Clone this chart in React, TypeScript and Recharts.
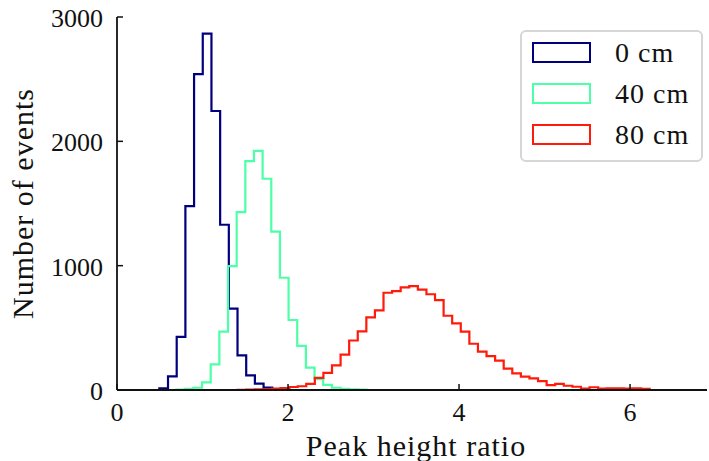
import { LineChart, Line, XAxis, YAxis, Label } from 'recharts'

const FONT = '"Liberation Serif", "Times New Roman", serif'
const INK = '#111'

// histogram series, one per absorber thickness
const seriesNames = ['0 cm', '40 cm', '80 cm']
const seriesColors = ['#00007f', '#4dffa6', '#ff1a0a']

// counts per bin
const blueBinStart = 0.495
const blueBinWidth = 0.1016
const blueCounts = [14, 110, 428, 1479, 2540, 2867, 2244, 1329, 654, 278, 117, 51, 19, 6, 3]

const greenBinStart = 0.691
const greenBinWidth = 0.1012
const greenCounts = [
  4, 9, 18, 62, 206, 469, 997, 1431, 1841, 1924, 1699, 1273, 903, 563, 355, 180, 88, 42, 18, 9, 5, 3,
]

const redBinStart = 1.41
const redBinWidth = 0.1004
const redCounts = [
  2, 4, 5, 7, 12, 16, 24, 30, 50, 98, 137, 198, 284, 398, 472, 584, 641, 782, 796, 825, 836, 807,
  770, 723, 597, 536, 469, 372, 308, 273, 236, 172, 134, 107, 94, 72, 40, 49, 34, 26, 12, 22, 11,
  14, 14, 11, 14, 9,
]
const redTailEnd = 6.9

const xTicks = [0, 2, 4, 6]
const yTicks = [0, 1000, 2000, 3000]
const xMax = 6.9
const yMax = 3000

// turn bin counts into points for a stepAfter outline (like histtype='step')
function toSteps(start: number, width: number, counts: number[], tailEnd?: number) {
  const pts = [{ x: start, y: 0 }]
  counts.forEach((c, i) => pts.push({ x: start + i * width, y: c }))
  const end = start + counts.length * width
  pts.push({ x: end, y: 0 })
  if (tailEnd && tailEnd > end) pts.push({ x: tailEnd, y: 0 })
  return pts
}

const blueData = toSteps(blueBinStart, blueBinWidth, blueCounts)
const greenData = toSteps(greenBinStart, greenBinWidth, greenCounts)
const redData = toSteps(redBinStart, redBinWidth, redCounts, redTailEnd)
const seriesData = [blueData, greenData, redData]

function XTick({ x, y, payload }: any) {
  return (
    <g>
      <line x1={x} y1={y} x2={x} y2={y - 6} stroke={INK} strokeWidth={1.5} />
      <text x={x} y={y + 31} textAnchor="middle" fontSize={26} fontFamily={FONT} fill={INK}>
        {payload.value}
      </text>
    </g>
  )
}

function YTick({ x, y, payload }: any) {
  return (
    <g>
      <line x1={x} y1={y} x2={x + 6} y2={y} stroke={INK} strokeWidth={1.5} />
      <text x={x - 14} y={y + 10} textAnchor="end" fontSize={26} fontFamily={FONT} fill={INK}>
        {payload.value}
      </text>
    </g>
  )
}

// legend box in the upper right, drawn over the plot like matplotlib's
function HistLegend() {
  return (
    <div
      style={{
        position: 'absolute',
        left: 520,
        top: 30,
        boxSizing: 'border-box',
        width: 183,
        height: 132,
        border: '2px solid #d6d6d6',
        borderRadius: 6,
        background: 'rgba(255,255,255,0.85)',
      }}
    >
      {seriesNames.map((name, i) => (
        <div key={name} style={{ display: 'flex', alignItems: 'center', height: 41 }}>
          <span
            style={{
              boxSizing: 'border-box',
              display: 'inline-block',
              marginLeft: 10,
              width: 59,
              height: 21,
              border: `2.5px solid ${seriesColors[i]}`,
            }}
          />
          <span
            style={{
              marginLeft: 24,
              fontFamily: FONT,
              fontSize: 28,
              letterSpacing: 1,
              color: INK,
              lineHeight: 1,
            }}
          >
            {name}
          </span>
        </div>
      ))}
    </div>
  )
}

export default function App() {
  return (
    <div style={{ position: 'absolute', left: 0, top: 0, width: 709, height: 461, background: '#fff' }}>
      <LineChart width={709} height={461} margin={{ top: 17, right: 2, bottom: 0, left: 0 }}>
        <XAxis
          dataKey="x"
          type="number"
          domain={[0, xMax]}
          ticks={xTicks}
          interval={0}
          allowDataOverflow
          height={71}
          tickSize={0}
          tickMargin={0}
          tick={<XTick />}
          axisLine={{ stroke: INK, strokeWidth: 1.8 }}
        >
          <Label
            content={({ viewBox }: any) => (
              <text
                x={viewBox.x + viewBox.width / 2 + 4}
                y={viewBox.y + viewBox.height - 5}
                textAnchor="middle"
                fontSize={30}
                letterSpacing={1}
                fontFamily={FONT}
                fill={INK}
              >
                Peak height ratio
              </text>
            )}
          />
        </XAxis>
        <YAxis
          type="number"
          domain={[0, yMax]}
          ticks={yTicks}
          interval={0}
          width={117}
          tickSize={0}
          tickMargin={0}
          tick={<YTick />}
          axisLine={{ stroke: INK, strokeWidth: 1.8 }}
        >
          <Label
            content={({ viewBox }: any) => {
              const cx = viewBox.x + 33
              const cy = viewBox.y + viewBox.height / 2
              return (
                <text
                  x={cx}
                  y={cy}
                  transform={`rotate(-90, ${cx}, ${cy})`}
                  textAnchor="middle"
                  fontSize={30}
                  letterSpacing={1}
                  fontFamily={FONT}
                  fill={INK}
                >
                  Number of events
                </text>
              )
            }}
          />
        </YAxis>
        {seriesData.map((d, i) => (
          <Line
            key={seriesNames[i]}
            data={d}
            dataKey="y"
            name={seriesNames[i]}
            type="stepAfter"
            stroke={seriesColors[i]}
            strokeWidth={2.2}
            dot={false}
            activeDot={false}
            isAnimationActive={false}
          />
        ))}
      </LineChart>
      <HistLegend />
    </div>
  )
}
